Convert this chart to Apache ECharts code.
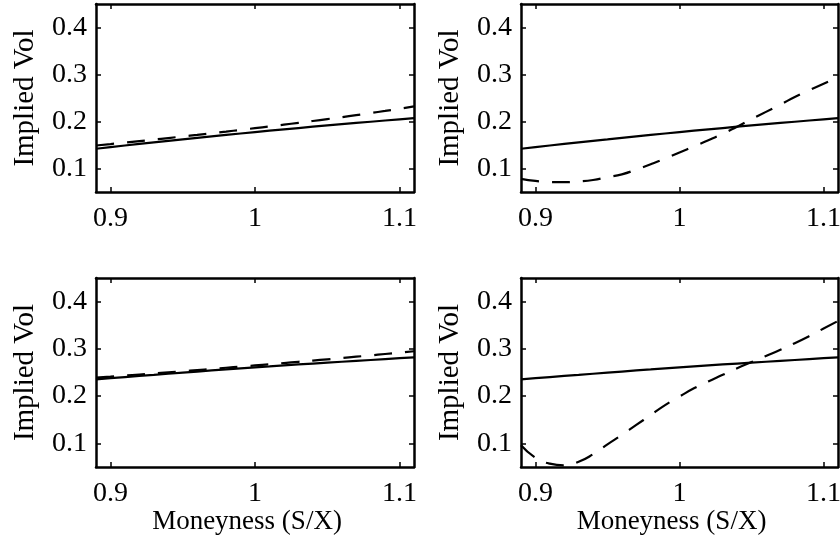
<!DOCTYPE html>
<html>
<head>
<meta charset="utf-8">
<script src="https://cdn.jsdelivr.net/npm/echarts@6/dist/echarts.min.js"></script>
<style>
  html, body { margin: 0; padding: 0; background: #fff; }
  #chart { width: 840px; height: 543px; }
</style>
</head>
<body>
<div id="chart"></div>
<script>
// ---- data ----
const moneyness = [0.89, 0.90, 0.91, 0.92, 0.93, 0.94, 0.95, 0.96, 0.97, 0.98, 0.99, 1.00,
                   1.01, 1.02, 1.03, 1.04, 1.05, 1.06, 1.07, 1.08, 1.09, 1.10, 1.11];

// top row, solid (true smile)
const topSolid = [0.142, 0.1455, 0.149, 0.1523, 0.1556, 0.1589, 0.162, 0.1652, 0.1683, 0.1714, 0.1745, 0.1775,
                  0.1804, 0.1833, 0.1861, 0.1889, 0.1916, 0.1943, 0.1969, 0.1995, 0.2021, 0.2046, 0.207];
// top-left dashed
const topLeftDashed = [0.149, 0.152, 0.1551, 0.1583, 0.1615, 0.1648, 0.1681, 0.1715, 0.175, 0.1785, 0.1821, 0.1858,
                       0.1895, 0.1933, 0.1972, 0.2011, 0.2051, 0.2092, 0.2135, 0.2180, 0.2225, 0.2272, 0.232];
// top-right dashed
const topRightDashed = [0.078, 0.0735, 0.0712, 0.0709, 0.0725, 0.0755, 0.0815, 0.0875, 0.0977, 0.109, 0.121, 0.134,
                        0.147, 0.160, 0.174, 0.189, 0.205, 0.2205, 0.236, 0.252, 0.2665, 0.2805, 0.294];
// bottom row, solid
const bottomSolid = [0.2356, 0.238, 0.2404, 0.2427, 0.245, 0.2474, 0.2497, 0.252, 0.2543, 0.2565, 0.2588, 0.261,
                     0.263, 0.265, 0.267, 0.2689, 0.2708, 0.2727, 0.2746, 0.2765, 0.2784, 0.2803, 0.2822];
// bottom-left dashed
const bottomLeftDashed = [0.239, 0.2412, 0.2435, 0.2458, 0.2481, 0.2504, 0.2527, 0.2551, 0.2575, 0.26, 0.2625, 0.265,
                          0.2675, 0.27, 0.2726, 0.2752, 0.2779, 0.2806, 0.2834, 0.2862, 0.2891, 0.292, 0.295];
// bottom-right dashed
const bottomRightDashed = [0.096, 0.0697, 0.057, 0.0535, 0.061, 0.077, 0.098, 0.118, 0.139, 0.160, 0.181, 0.199,
                           0.2165, 0.231, 0.245, 0.259, 0.272, 0.285, 0.298, 0.312, 0.327, 0.343, 0.359];

const xTicks = [0.9, 1, 1.1];
const yTicks = [0.1, 0.2, 0.3, 0.4];
const xRange = [0.89, 1.11];
const yRange = [0.05, 0.45];
const xTitle = 'Moneyness (S/X)';
const yTitle = 'Implied Vol';

// ---- layout ----
const grids = [
  { left: 96,  top: 4,   width: 318, height: 188, outerBoundsMode: 'none', containLabel: false },
  { left: 521, top: 4,   width: 317, height: 188, outerBoundsMode: 'none', containLabel: false },
  { left: 96,  top: 278, width: 318, height: 189, outerBoundsMode: 'none', containLabel: false },
  { left: 521, top: 278, width: 317, height: 189, outerBoundsMode: 'none', containLabel: false }
];
const panels = [
  { solid: topSolid,    dashed: topLeftDashed,     xName: false },
  { solid: topSolid,    dashed: topRightDashed,    xName: false },
  { solid: bottomSolid, dashed: bottomLeftDashed,  xName: true },
  { solid: bottomSolid, dashed: bottomRightDashed, xName: true }
];

const FONT = 'Liberation Serif';
const lineStyle = { color: '#000', width: 2.5 };

const xAxes = [], yAxes = [], series = [];
panels.forEach((p, i) => {
  const common = {
    gridIndex: i, type: 'value',
    axisLine: { show: true, onZero: false, lineStyle },
    splitLine: { show: false }
  };
  xAxes.push(Object.assign({}, common, {
    position: 'bottom', min: xRange[0], max: xRange[1],
    axisTick: { show: true, inside: true, length: 5, customValues: xTicks, lineStyle: { color: '#000', width: 1.5 } },
    axisLabel: { show: true, customValues: xTicks, margin: 13, color: '#000', fontFamily: FONT, fontSize: 28 },
    name: p.xName ? xTitle : '', nameLocation: 'middle', nameGap: 35,
    nameTextStyle: { color: '#000', fontFamily: FONT, fontSize: 27, padding: [0, 16, 0, 0] }
  }));
  xAxes.push(Object.assign({}, common, {
    position: 'top', min: xRange[0], max: xRange[1],
    axisTick: { show: true, inside: true, length: 5, customValues: xTicks, lineStyle: { color: '#000', width: 1.5 } },
    axisLabel: { show: false }
  }));
  yAxes.push(Object.assign({}, common, {
    position: 'left', min: yRange[0], max: yRange[1],
    axisTick: { show: true, inside: true, length: 5, customValues: yTicks, lineStyle: { color: '#000', width: 1.5 } },
    axisLabel: { show: true, customValues: yTicks, margin: 9, color: '#000', fontFamily: FONT, fontSize: 28 },
    name: yTitle, nameLocation: 'middle', nameGap: 56, nameRotate: 90,
    nameTextStyle: { color: '#000', fontFamily: FONT, fontSize: 29 }
  }));
  yAxes.push(Object.assign({}, common, {
    position: 'right', min: yRange[0], max: yRange[1],
    axisTick: { show: true, inside: true, length: 5, customValues: yTicks, lineStyle: { color: '#000', width: 1.5 } },
    axisLabel: { show: false }
  }));

  const toPts = arr => moneyness.map((x, k) => [x, arr[k]]);
  series.push({
    type: 'line', xAxisIndex: 2 * i, yAxisIndex: 2 * i,
    data: toPts(p.solid), showSymbol: false, smooth: false, clip: true,
    lineStyle: { color: '#000', width: 2.2, type: 'solid' }, z: 3
  });
  series.push({
    type: 'line', xAxisIndex: 2 * i, yAxisIndex: 2 * i,
    data: toPts(p.dashed), showSymbol: false, smooth: true, clip: true,
    lineStyle: { color: '#000', width: 2.2, type: [18, 13] }, z: 3
  });
});

const chart = echarts.init(document.getElementById('chart'), null, { renderer: 'canvas' });
chart.setOption({
  animation: false,
  backgroundColor: '#fff',
  grid: grids,
  xAxis: xAxes,
  yAxis: yAxes,
  series: series
});
</script>
</body>
</html>
